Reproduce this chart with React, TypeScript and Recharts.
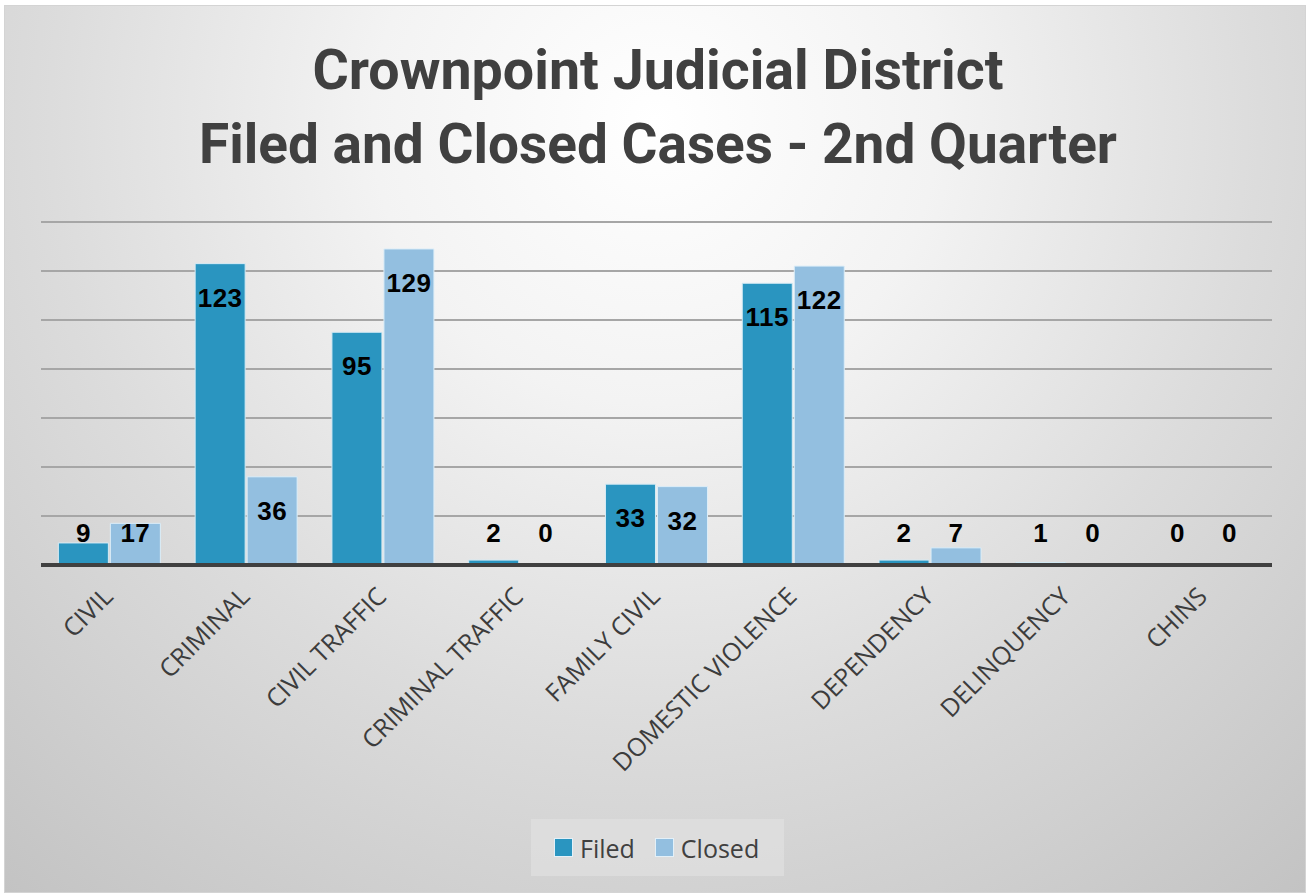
import React from 'react'
import { BarChart, Bar, XAxis, YAxis, CartesianGrid, LabelList, Rectangle } from 'recharts'

const categories = [
  'CIVIL',
  'CRIMINAL',
  'CIVIL TRAFFIC',
  'CRIMINAL TRAFFIC',
  'FAMILY CIVIL',
  'DOMESTIC VIOLENCE',
  'DEPENDENCY',
  'DELINQUENCY',
  'CHINS',
]
const filed = [9, 123, 95, 2, 33, 115, 2, 1, 0]
const closed = [17, 36, 129, 0, 32, 122, 7, 0, 0]
const yTicks = [0, 20, 40, 60, 80, 100, 120, 140]
const seriesNames = ['Filed', 'Closed']
const seriesColors = ['#2a95c0', '#93bfe0']
const titleLines = ['Crownpoint Judicial District', 'Filed and Closed Cases - 2nd Quarter']

const data = categories.map((name, i) => ({ name, filed: filed[i], closed: closed[i] }))

const W = 1302
const H = 888

const AxisTick = ({ x, y, payload }: any) => (
  <g transform={`translate(${x + 5},${y + 33}) rotate(-45)`}>
    <text
      textAnchor="end"
      fill="#3c3c3c"
      fontSize={25}
      fontWeight={400}
      fontFamily="'Open Sans', 'Liberation Sans', sans-serif"
    >
      {payload.value}
    </text>
  </g>
)

// zero bars get a tiny min size so their labels still show, but draw nothing
const BarShape = (props: any) => (props.height < 0.5 ? <g /> : <Rectangle {...props} />)

// labels sit inside the top of tall bars, and float just above the axis for short ones
const ValueLabel = ({ x, y, width, height, value }: any) => {
  const bottom = y + height
  const cy = Math.min(y + 34, bottom - 32)
  return (
    <text
      x={x + width / 2}
      y={cy}
      textAnchor="middle"
      dominantBaseline="central"
      fill="#000"
      fontSize={26}
      fontWeight={700}
      letterSpacing={0.5}
      fontFamily="'Liberation Sans', Arial, sans-serif"
    >
      {value}
    </text>
  )
}

export default function App() {
  return (
    <div
      style={{
        position: 'absolute',
        left: 4,
        top: 5,
        width: W,
        height: H,
        boxSizing: 'border-box',
        border: '1px solid #d4d4d4',
        background:
          'radial-gradient(circle farthest-corner at 50% 13%, #ffffff 0%, #f3f3f3 28%, #dcdcdc 60%, #c3c3c3 100%)',
        overflow: 'hidden',
      }}
    >
      <svg width={W} height={200} style={{ position: 'absolute', left: 0, top: 0 }}>
        {titleLines.map((t, i) => (
          <text
            key={t}
            x={653}
            y={i === 0 ? 83 : 157}
            textAnchor="middle"
            fill="#404040"
            fontSize={55}
            fontWeight={700}
            fontFamily="Roboto, 'Liberation Sans', sans-serif"
            textLength={i === 0 ? 691 : 918}
            lengthAdjust="spacingAndGlyphs"
          >
            {t}
          </text>
        ))}
      </svg>

      <div style={{ position: 'absolute', left: 0, top: 0 }}>
        <BarChart
          width={W - 2}
          height={H - 2}
          data={data}
          margin={{ top: 216, right: 33, bottom: 0, left: 36 }}
          barCategoryGap="12.7%"
          barGap={2}
        >
          <CartesianGrid vertical={false} stroke="#a6a6a6" strokeWidth={2} />
          <YAxis hide domain={[0, 140]} ticks={yTicks} />
          <XAxis
            dataKey="name"
            interval={0}
            tickLine={false}
            tickSize={0}
            tickMargin={0}
            height={327}
            axisLine={{ stroke: '#404040', strokeWidth: 4 }}
            tick={<AxisTick />}
          />
          <Bar
            dataKey="filed"
            name={seriesNames[0]}
            fill={seriesColors[0]}
            stroke="#d6ebf5"
            strokeWidth={1}
            minPointSize={0.01}
            shape={<BarShape />}
            isAnimationActive={false}
          >
            <LabelList dataKey="filed" content={<ValueLabel />} />
          </Bar>
          <Bar
            dataKey="closed"
            name={seriesNames[1]}
            fill={seriesColors[1]}
            stroke="#ddeef8"
            strokeWidth={1}
            minPointSize={0.01}
            shape={<BarShape />}
            isAnimationActive={false}
          >
            <LabelList dataKey="closed" content={<ValueLabel />} />
          </Bar>
        </BarChart>
      </div>

      <div
        style={{
          position: 'absolute',
          left: 526,
          top: 813,
          width: 253,
          height: 57,
          background: 'rgba(228,228,228,0.55)',
          display: 'flex',
          alignItems: 'center',
          paddingLeft: 23,
          boxSizing: 'border-box',
          fontFamily: "'Open Sans', 'Liberation Sans', sans-serif",
          fontSize: 25,
          color: '#404040',
        }}
      >
        {seriesNames.map((n, i) => (
          <div key={n} style={{ display: 'flex', alignItems: 'center', marginRight: i === 0 ? 20 : 0 }}>
            <span
              style={{
                display: 'inline-block',
                width: 17,
                height: 17,
                background: seriesColors[i],
                border: '1px solid #e3f0f8',
                marginRight: 7,
              }}
            />
            <span>{n}</span>
          </div>
        ))}
      </div>
    </div>
  )
}
